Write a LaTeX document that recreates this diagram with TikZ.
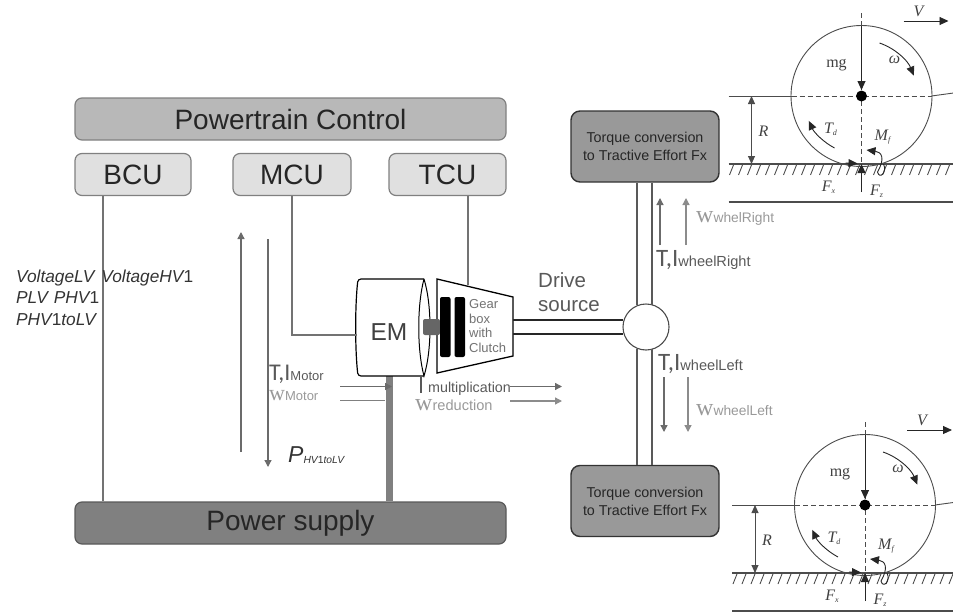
\documentclass[tikz,border=0pt]{standalone}
\usepackage{fontspec}
\setmainfont{Liberation Sans}
\newfontfamily\wheelfont{Liberation Serif}
\newfontfamily\tifont{Carlito}
\usetikzlibrary{arrows.meta}
\tikzset{
    ctrlbox/.style={draw=black!50,line width=1.2pt,rounded corners=7pt,fill=black!12,text=black!85,font=\fontsize{28}{28}\selectfont,inner sep=0pt},
    bigbox/.style={ctrlbox,fill=black!28},
    supplybox/.style={ctrlbox,draw=black!65,fill=black!50},
    torquebox/.style={draw=black!80,line width=1.4pt,rounded corners=9pt,fill=black!40,text=black!85,align=center,font=\fontsize{14.3}{18}\selectfont,inner sep=0pt},
    signal/.style={draw=black!55,line width=2pt},
    flow/.style={draw=black!58,line width=1.3pt,-{Triangle[length=7pt,width=7pt]}},
    flowlight/.style={flow,draw=black!45},
    lbl/.style={inner sep=0pt,text=black!65,anchor=base west},
    lbllight/.style={lbl,text=black!40},
    wheelline/.style={draw=black!70,line width=.9pt},
    wheelarrow/.style={wheelline,draw=black!85,-{Triangle[length=9pt,width=8pt]}},
    wheeltext/.style={inner sep=0pt,text=black!75,font=\wheelfont\fontsize{16}{16}\selectfont},
}
% one wheel with its forces, origin at the hub
\newcommand{\wheelpart}[1]{
    \begin{scope}[shift={(#1)}]
        \draw[wheelline] (0,0) circle (70.5);
        \draw[wheelline,dashed,dash pattern=on 5pt off 3pt] (0,-83) -- (0,96);
        \draw[wheelline,dashed,dash pattern=on 5pt off 3pt] (-70,0) -- (70,0);
        \draw[wheelline] (70,0) -- (92,-3);
        \draw[wheelline] (-133,0) -- (-70,0);
        \draw[wheelline,{Triangle[length=8pt,width=7pt]}-{Triangle[length=8pt,width=7pt]}] (-110,0) -- (-110,68);
        \draw[wheelline,line width=1.1pt] (-133,68) -- (92,68);
        \foreach \i in {-128,-119,...,92}
        {
            \draw[wheelline] (\i,69) -- (\i-4,79);
        }
        \draw[draw=black!70,line width=1.1pt] (-133,106) -- (92,106);
        \draw[wheelarrow] (0,-70) -- (0,-6);
        \fill[black] (0,0) circle (5.5);
        \draw[wheelarrow] (0,96) -- (0,68);
        \draw[wheelarrow] (-16,67) -- (-4,67.5);
        \draw[wheelarrow] (18,-53) arc[start angle=-71,end angle=-22,radius=57];
        \draw[wheelarrow] (-27,52) arc[start angle=118,end angle=155,radius=59];
        \draw[wheelarrow] (22,68) .. controls (26,76) and (18,84) .. (16,76) .. controls (24,62) and (20,56) .. (5,54);
        \draw[wheelarrow] (42,-75) -- (87,-75);
        \node[wheeltext] (mg) at (-25,-31) {mg};
        \node[wheeltext] (om) at (33,-36) {\itshape ω};
        \node[wheeltext] (rr) at (-98,35) {\itshape R};
        \node[wheeltext] (vv) at (57,-85) {\itshape V};
        \node[wheeltext] (td) at (-31,33) {\itshape T\fontsize{8}{8}\selectfont\raisebox{-2pt}{d}};
        \node[wheeltext] (mf) at (21,41) {\itshape M\fontsize{8}{8}\selectfont\raisebox{-2pt}{f}};
        \node[wheeltext] (fx) at (-33,91) {\itshape F\fontsize{8}{8}\selectfont\raisebox{-2pt}{x}};
        \node[wheeltext] (fz) at (15,95) {\itshape F\fontsize{8}{8}\selectfont\raisebox{-2pt}{z}};
    \end{scope}
}
\begin{document}
\begin{tikzpicture}[x=1pt,y=-1pt]
    \useasboundingbox (0,0) rectangle (953,613);
    % wheels
    \wheelpart{861.5,96}
    \wheelpart{865,505}
    % control and supply
    \node[bigbox,minimum width=431pt,minimum height=42pt] (ctrl) at (290.5,119) {Powertrain Control};
    \node[ctrlbox,minimum width=116pt,minimum height=42pt] (bcu) at (133,174.5) {BCU};
    \node[ctrlbox,minimum width=118pt,minimum height=42pt] (mcu) at (292,174.5) {MCU};
    \node[ctrlbox,minimum width=117pt,minimum height=42pt] (tcu) at (447.5,174.5) {TCU};
    \node[supplybox,minimum width=431pt,minimum height=42pt] (supply) at (290.5,523) {Power supply};
    % motor and gear box
    \coordinate (emleft) at (357,335);
    \coordinate (emlow) at (389.5,376);
    \coordinate (gearin) at (468,285);
    \coordinate (gearup) at (513,320);
    \coordinate (gearlow) at (513,334);
    \draw[signal] ([xshift=-30pt]bcu.south) -- ([xshift=-30pt]bcu.south |- supply.north);
    \draw[signal] ([xshift=20.5pt]tcu.south) -- ([xshift=20.5pt]tcu.south |- gearin);
    \draw[draw=black!50,line width=7.5pt] (emlow) -- (emlow |- supply.north);
    \draw[line width=1.2pt,fill=white,rounded corners=3pt] (424,279) -- (358,279) .. controls (355,305) and (355,350) .. (358,376) -- (424,376);
    \draw[line width=1pt] (424,279) .. controls (432,305) and (432,350) .. (424,376) .. controls (417,350) and (417,305) .. (424,279);
    \node[inner sep=0pt,text=black!75,font=\fontsize{24.5}{24.5}\selectfont] (em) at (389,332) {EM};
    \draw[signal] (mcu.south) |- (emleft);
    \draw[line width=1.3pt,fill=white] (437,279) -- (513,297) -- (513,356) -- (437,373) -- cycle;
    \fill[black!60,rounded corners=2pt] (423,319) rectangle (440,335);
    \fill[black,rounded corners=2pt] (440,297) rectangle (450.5,357);
    \fill[black,rounded corners=2pt] (454.5,297) rectangle (465,357);
    \node[inner sep=0pt,anchor=west,align=left,text=black!55,font=\fontsize{13}{14.8}\selectfont] (gear) at (469,326) {Gear\\box\\with\\Clutch};
    % drive shafts
    \node[draw=black!70,line width=1.1pt,circle,minimum size=46pt,inner sep=0pt] (diff) at (646,327) {};
    \node[torquebox,minimum width=148pt,minimum height=71pt] (wheeltop) at (645,146.5) {Torque conversion\\to Tractive Effort Fx};
    \node[torquebox,minimum width=148pt,minimum height=71pt] (wheelbot) at (645,501) {Torque conversion\\to Tractive Effort Fx};
    \draw[line width=1.3pt,draw=black!85] (gearup) -- ([xshift=1pt]gearup -| diff.west);
    \draw[line width=1.3pt,draw=black!85] (gearlow) -- ([xshift=1pt]gearlow -| diff.west);
    \foreach \i in {637,652}
    {
        \draw[signal,draw=black!65,line width=1.4pt] (\i,0 |- wheeltop.south) -- ([yshift=-1.5pt]\i,0 |- diff.north);
        \draw[signal,draw=black!65,line width=1.4pt] ([yshift=1.5pt]\i,0 |- diff.south) -- (\i,0 |- wheelbot.north);
    }
    % flows
    \draw[flow] (241,452) -- (241,232);
    \draw[flow] (268,239) -- (268,467);
    \draw[flow] (340,386.5) -- (392,386.5);
    \draw[signal,draw=black!50,line width=1.3pt] (340,400.5) -- (385,400.5);
    \draw[signal,draw=black!65,line width=1.3pt] (421,376) -- (421,393);
    \draw[flow] (510,386.5) -- (562,386.5);
    \draw[flowlight] (510,401) -- (562,401);
    \draw[flow] (660,245) -- (660,198);
    \draw[flowlight] (686,245) -- (686,198);
    \draw[flow] (664,377) -- (664,432);
    \draw[flowlight] (688,377) -- (688,432);
    % labels
    \node[lbl,text=black!80,font=\fontsize{17.3}{17.3}\selectfont] (vl) at (16,282) {\itshape VoltageLV\hspace{7pt}VoltageHV\upshape 1};
    \node[lbl,text=black!80,font=\fontsize{17.3}{17.3}\selectfont] (pl) at (16,303) {\itshape PLV\hspace{6pt}PHV\upshape 1};
    \node[lbl,text=black!80,font=\fontsize{17.3}{17.3}\selectfont] (pt) at (16,325) {\itshape PHV\upshape 1\itshape toLV};
    \node[lbl,text=black!80,font=\fontsize{23}{23}\selectfont] (phv) at (288,462) {\itshape P\fontsize{10.3}{10.3}\selectfont\raisebox{-1pt}{HV\upshape 1\itshape toLV}};
    \node[lbl,font=\fontsize{24}{24}\selectfont] (tm) at (269,380) {\tifont T,I\rmfamily\fontsize{13}{13}\selectfont Motor};
    \node[lbllight,font=\fontsize{22}{22}\selectfont] (wm) at (269,400) {\wheelfont w\rmfamily\fontsize{13}{13}\selectfont Motor};
    \node[lbl,font=\fontsize{14.3}{14.3}\selectfont] (mu) at (428,392) {multiplication};
    \node[lbllight,font=\fontsize{24}{24}\selectfont] (wr) at (415,410) {\wheelfont w\rmfamily\fontsize{14.6}{14.6}\selectfont reduction};
    \node[lbl,font=\fontsize{20.5}{20.5}\selectfont] (dr) at (538,287) {Drive};
    \node[lbl,font=\fontsize{20.5}{20.5}\selectfont] (so) at (538,311) {source};
    \node[lbllight,font=\fontsize{24}{24}\selectfont] (wr2) at (696,222) {\wheelfont w\rmfamily\fontsize{13.8}{13.8}\selectfont whelRight};
    \node[lbl,font=\fontsize{25}{25}\selectfont] (tr) at (656,266) {\tifont T,I\rmfamily\fontsize{14.6}{14.6}\selectfont wheelRight};
    \node[lbl,font=\fontsize{25}{25}\selectfont] (tl) at (658,370) {\tifont T,I\rmfamily\fontsize{14.6}{14.6}\selectfont wheelLeft};
    \node[lbllight,font=\fontsize{24}{24}\selectfont] (wl) at (696,415) {\wheelfont w\rmfamily\fontsize{13.8}{13.8}\selectfont wheelLeft};
\end{tikzpicture}
\end{document}
